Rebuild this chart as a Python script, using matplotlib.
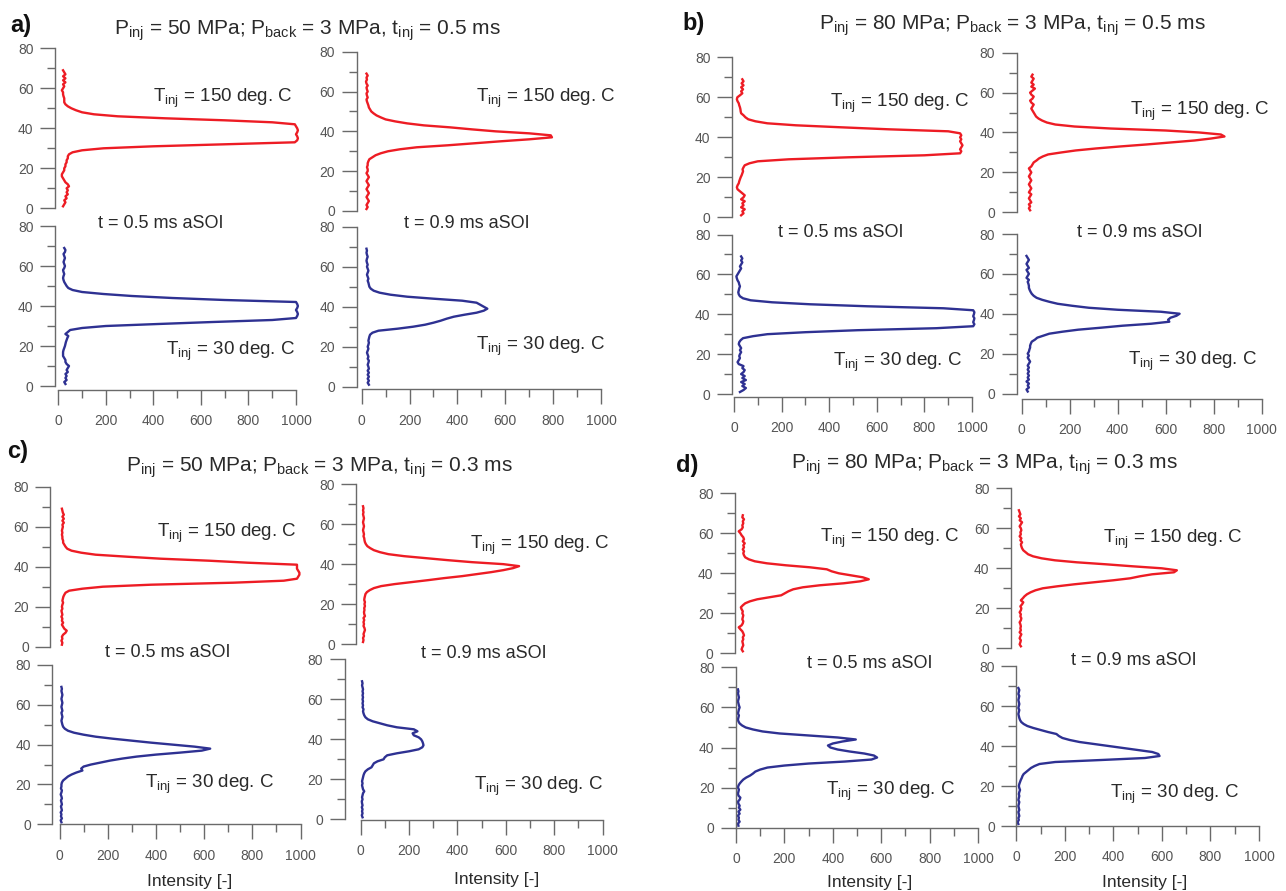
import matplotlib.pyplot as plt
from matplotlib.ticker import MultipleLocator

plt.rcParams['font.family'] = ['Liberation Sans', 'DejaVu Sans']
plt.rcParams['mathtext.fontset'] = 'custom'
plt.rcParams['mathtext.rm'] = 'Liberation Sans'
plt.rcParams['mathtext.it'] = 'Liberation Sans:italic'
plt.rcParams['mathtext.bf'] = 'Liberation Sans:bold'

# radial position (same grid for every profile)
height = list(range(1, 70))

# intensity profiles, one value per height step
a_hot_05 = [20, 25, 30, 25, 35, 30, 40, 35, 40, 35,
            45, 40, 30, 25, 20, 15, 15, 20, 25, 25,
            30, 30, 35, 35, 40, 40, 45, 60, 100, 190,
            400, 700, 995, 1005, 1008, 1005, 1000, 1005, 1008, 1005,
            1000, 995, 900, 700, 450, 250, 150, 100, 75, 55,
            40, 30, 25, 25, 25, 22, 20, 20, 15, 20,
            25, 20, 30, 20, 30, 20, 30, 25, 20]
a_hot_09 = [20, 25, 20, 25, 30, 25, 20, 25, 30, 25,
            20, 25, 30, 25, 20, 25, 30, 25, 20, 25,
            25, 22, 25, 25, 28, 32, 45, 58, 80, 110,
            160, 230, 360, 470, 580, 700, 795, 790, 700, 560,
            460, 370, 260, 190, 140, 100, 80, 62, 50, 40,
            35, 30, 28, 25, 22, 20, 25, 22, 20, 25,
            22, 20, 25, 20, 18, 22, 20, 25, 20]
a_cold_05 = [30, 25, 35, 30, 35, 30, 40, 35, 40, 45,
             35, 30, 30, 25, 20, 20, 20, 22, 25, 28,
             30, 32, 35, 38, 42, 30, 40, 50, 100, 200,
             420, 650, 900, 1000, 1005, 1008, 1005, 1000, 1005, 1008,
             1005, 1000, 700, 480, 310, 190, 100, 60, 42, 35,
             30, 25, 22, 20, 22, 25, 22, 20, 25, 28,
             25, 22, 25, 28, 25, 22, 28, 30, 25]
a_cold_09 = [30, 25, 30, 25, 30, 25, 30, 25, 30, 28,
             25, 28, 30, 25, 28, 25, 22, 25, 28, 25,
             28, 30, 28, 30, 32, 35, 45, 70, 150, 215,
             265, 300, 330, 355, 385, 430, 480, 510, 525, 510,
             495, 480, 420, 300, 190, 120, 75, 50, 38, 32,
             30, 28, 25, 28, 25, 22, 25, 28, 25, 22,
             25, 22, 20, 22, 25, 22, 20, 22, 20]
b_hot_05 = [30, 40, 35, 45, 30, 40, 35, 45, 30, 40,
            45, 35, 25, 15, 12, 15, 20, 22, 25, 28,
            32, 35, 38, 36, 40, 45, 65, 100, 230, 480,
            800, 950, 955, 950, 955, 960, 955, 950, 955, 950,
            955, 950, 900, 650, 450, 260, 140, 90, 60, 48,
            40, 30, 28, 27, 25, 22, 20, 15, 12, 14,
            25, 35, 30, 38, 30, 40, 32, 40, 35]
b_hot_09 = [35, 30, 35, 30, 40, 35, 30, 35, 40, 30,
            35, 40, 35, 30, 35, 40, 35, 30, 35, 40,
            35, 30, 40, 45, 50, 62, 72, 88, 110, 165,
            225, 310, 410, 520, 620, 720, 790, 845, 830, 740,
            600, 370, 220, 140, 105, 85, 70, 60, 55, 50,
            45, 40, 45, 50, 40, 35, 45, 50, 40, 35,
            45, 55, 40, 50, 40, 45, 50, 40, 45]
b_cold_05 = [25, 40, 50, 35, 45, 30, 50, 35, 45, 30,
             40, 45, 35, 40, 20, 15, 20, 25, 22, 25,
             30, 25, 30, 25, 20, 22, 28, 38, 80, 140,
             300, 520, 850, 1005, 1010, 1005, 1008, 1010, 1005, 1008,
             1010, 1005, 880, 560, 320, 160, 70, 38, 25, 20,
             18, 20, 22, 25, 22, 20, 15, 12, 10, 15,
             20, 25, 30, 25, 30, 35, 30, 35, 30]
b_cold_09 = [25, 20, 30, 25, 30, 20, 30, 25, 30, 25,
             30, 25, 30, 25, 30, 35, 30, 25, 30, 25,
             30, 32, 35, 35, 38, 42, 55, 65, 90, 115,
             170, 235, 330, 420, 540, 615, 610, 620, 645, 658,
             580, 400, 280, 210, 150, 115, 85, 62, 50, 42,
             37, 33, 30, 30, 28, 25, 30, 20, 25, 30,
             25, 20, 30, 25, 20, 25, 30, 25, 20]
c_hot_05 = [10, 12, 8, 12, 10, 15, 25, 30, 20, 15,
            10, 15, 10, 12, 8, 12, 10, 8, 12, 10,
            12, 15, 12, 14, 16, 20, 25, 40, 95, 180,
            380, 720, 930, 985, 990, 995, 995, 990, 985, 985,
            985, 780, 620, 420, 280, 150, 90, 50, 32, 25,
            20, 15, 15, 12, 12, 10, 12, 10, 12, 14,
            12, 18, 12, 18, 12, 18, 14, 12, 10]
c_hot_09 = [10, 12, 10, 14, 12, 15, 18, 16, 12, 14,
            12, 15, 12, 18, 15, 14, 16, 15, 18, 16,
            18, 15, 16, 18, 20, 26, 38, 55, 85, 140,
            210, 280, 345, 420, 480, 540, 590, 630, 655, 590,
            460, 360, 270, 180, 115, 80, 55, 40, 28, 22,
            18, 16, 15, 12, 14, 12, 10, 12, 14, 12,
            10, 12, 14, 12, 10, 12, 10, 12, 10]
c_cold_05 = [8, 5, 10, 6, 8, 5, 10, 8, 6, 10,
             8, 6, 10, 8, 5, 8, 10, 6, 8, 8,
             10, 15, 25, 35, 50, 70, 95, 90, 100, 130,
             170, 210, 260, 320, 400, 500, 590, 625, 560, 470,
             380, 300, 220, 150, 100, 60, 35, 22, 15, 12,
             10, 8, 10, 12, 10, 8, 12, 10, 8, 10,
             12, 10, 8, 10, 12, 10, 8, 10, 8]
c_cold_09 = [8, 5, 8, 6, 8, 5, 8, 6, 5, 8,
             6, 8, 10, 15, 10, 8, 6, 8, 6, 8,
             10, 12, 15, 20, 30, 45, 50, 55, 70, 95,
             100, 110, 150, 200, 240, 255, 260, 258, 255, 250,
             240, 220, 215, 235, 220, 150, 110, 80, 50, 30,
             20, 15, 12, 10, 12, 8, 10, 8, 10, 8,
             10, 8, 10, 8, 10, 8, 6, 8, 6]
d_hot_05 = [20, 15, 18, 22, 20, 18, 22, 20, 25, 22,
            18, 10, 3, 15, 20, 22, 18, 20, 22, 18,
            20, 15, 12, 20, 30, 50, 80, 130, 180, 195,
            210, 230, 270, 340, 440, 510, 545, 520, 470, 420,
            390, 370, 300, 200, 120, 70, 45, 30, 25, 22,
            25, 20, 25, 22, 28, 20, 25, 22, 15, 10,
            3, 15, 20, 18, 22, 20, 25, 18, 20]
d_hot_09 = [20, 15, 18, 20, 15, 18, 22, 15, 20, 18,
            20, 18, 15, 20, 22, 18, 20, 15, 20, 22,
            18, 25, 30, 20, 28, 35, 45, 60, 80, 110,
            170, 240, 320, 400, 470, 510, 560, 650, 662, 600,
            480, 370, 250, 160, 105, 70, 50, 40, 30, 25,
            22, 20, 25, 18, 22, 15, 20, 18, 22, 20,
            15, 20, 25, 15, 20, 12, 18, 15, 12]
d_cold_05 = [10, 8, 15, 10, 12, 8, 15, 10, 18, 12,
             15, 10, 8, 15, 18, 10, 8, 10, 12, 8,
             10, 15, 22, 30, 42, 58, 70, 80, 100, 130,
             200, 300, 450, 560, 583, 570, 530, 470, 420, 390,
             380, 400, 440, 495, 420, 300, 180, 110, 70, 40,
             25, 15, 10, 8, 10, 12, 8, 10, 12, 15,
             12, 10, 8, 10, 12, 10, 8, 10, 8]
d_cold_09 = [8, 5, 10, 8, 12, 10, 8, 12, 10, 8,
             10, 12, 8, 10, 12, 10, 12, 15, 12, 10,
             12, 15, 18, 22, 25, 30, 40, 50, 60, 75,
             95, 160, 350, 530, 590, 585, 560, 500, 440, 380,
             320, 260, 220, 190, 175, 165, 130, 100, 70, 45,
             30, 20, 15, 12, 10, 8, 10, 12, 8, 10,
             12, 10, 8, 10, 12, 8, 10, 12, 8]

panel_letters = ['a)', 'b)', 'c)', 'd)']
panel_titles = [r'P$_{\rm inj}$ = 50 MPa; P$_{\rm back}$ = 3 MPa, t$_{\rm inj}$ = 0.5 ms',
                r'P$_{\rm inj}$ = 80 MPa; P$_{\rm back}$ = 3 MPa, t$_{\rm inj}$ = 0.5 ms',
                r'P$_{\rm inj}$ = 50 MPa; P$_{\rm back}$ = 3 MPa, t$_{\rm inj}$ = 0.3 ms',
                r'P$_{\rm inj}$ = 80 MPa; P$_{\rm back}$ = 3 MPa, t$_{\rm inj}$ = 0.3 ms']
hot_label = r'T$_{\rm inj}$ = 150 deg. C'
cold_label = r'T$_{\rm inj}$ = 30 deg. C'
time_labels = ['t = 0.5 ms aSOI', 't = 0.9 ms aSOI']
xlabel = 'Intensity [-]'

RED = '#ed1c24'
BLUE = '#2e3192'
GREY = '#6a6a6a'
TXT = '#2a2a2a'

W, H = 1286, 891
fig = plt.figure(figsize=(W / 100, H / 100), dpi=100)


def add_profile(profile, color, x0, x1, y0, y80, spine_px, xaxis_px=None):
    ax = fig.add_axes([x0 / W, 1 - y0 / H, (x1 - x0) / W, (y0 - y80) / H])
    ax.plot(profile, height, color=color, lw=1.7, solid_joinstyle='round', clip_on=False)
    ax.set_xlim(0, 1000)
    ax.set_ylim(0, 80)
    ax.patch.set_visible(False)
    for s in ['top', 'right']:
        ax.spines[s].set_visible(False)
    ax.spines['left'].set_position(('outward', (x0 - spine_px) * 0.72))
    ax.spines['left'].set_color(GREY)
    ax.spines['left'].set_linewidth(1.0)
    ax.yaxis.set_major_locator(MultipleLocator(20))
    ax.yaxis.set_minor_locator(MultipleLocator(10))
    ax.tick_params(axis='y', which='major', length=10.5, width=1.0, color=GREY,
                   pad=5, labelsize=10, labelcolor='#555555')
    ax.tick_params(axis='y', which='minor', length=5.5, width=1.0, color=GREY)
    if xaxis_px is None:
        ax.spines['bottom'].set_visible(False)
        ax.set_xticks([])
    else:
        ax.spines['bottom'].set_position(('outward', (xaxis_px - y0) * 0.72))
        ax.spines['bottom'].set_color(GREY)
        ax.spines['bottom'].set_linewidth(1.0)
        ax.xaxis.set_major_locator(MultipleLocator(200))
        ax.xaxis.set_minor_locator(MultipleLocator(100))
        ax.tick_params(axis='x', which='major', length=10.5, width=1.0, color=GREY,
                       pad=7, labelsize=10, labelcolor='#555555')
        ax.tick_params(axis='x', which='minor', length=5.5, width=1.0, color=GREY)
    return ax


def ftext(x, y, s, **kw):
    kw.setdefault('color', TXT)
    fig.text(x / W, 1 - y / H, s, **kw)


# panel a
add_profile(a_hot_05, RED, 58.3, 296, 208.3, 48.3, 55)
add_profile(a_hot_09, RED, 361.7, 601, 211, 51.7, 356.7)
add_profile(a_cold_05, BLUE, 58.3, 296, 386, 226, 55, 390)
add_profile(a_cold_09, BLUE, 361.7, 601, 386.7, 226.7, 356.7, 389.5)
# panel b
add_profile(b_hot_05, RED, 734, 972, 217.3, 57.3, 732)
add_profile(b_hot_09, RED, 1021.7, 1261.7, 212.3, 52.7, 1016.7)
add_profile(b_cold_05, BLUE, 734, 972, 394, 234.5, 732, 397)
add_profile(b_cold_09, BLUE, 1021.7, 1261.7, 393.5, 234, 1016.7, 399)
# panel c
add_profile(c_hot_05, RED, 59.5, 300.6, 646.7, 486.7, 50.3)
add_profile(c_hot_09, RED, 360.6, 602.5, 644, 484.3, 356.4)
add_profile(c_cold_05, BLUE, 59.5, 300.6, 824.3, 665, 52.4, 824.3)
add_profile(c_cold_09, BLUE, 360.6, 602.5, 819.3, 659.3, 344.6, 820)
# panel d
add_profile(d_hot_05, RED, 738, 978, 653.3, 493.3, 735)
add_profile(d_hot_09, RED, 1016, 1259, 648.3, 488.3, 1011)
add_profile(d_cold_05, BLUE, 736, 978, 827.7, 667.3, 736, 827.7)
add_profile(d_cold_09, BLUE, 1016.4, 1259, 826, 666, 1016.4, 826)

# panel letters and titles
for (lx, ly), (tx, ty), letter, title in zip(
        [(10, 32), (682, 30), (7, 458), (676, 472)],
        [(307, 35), (1012, 30), (319, 471.7), (984, 468.3)],
        panel_letters, panel_titles):
    ftext(lx, ly, letter, fontsize=17, fontweight='bold', color='#111111', va='baseline')
    ftext(tx, ty, title, fontsize=15, ha='center', va='baseline')

# temperature labels
for x, y in [(153, 101.7), (476, 101.7), (830, 106.7), (1130, 114.7),
             (157, 536.7), (470, 549.4), (820, 541.7), (1103, 542.7)]:
    ftext(x, y, hot_label, fontsize=13.5, va='baseline')
for x, y in [(166, 354.7), (476, 349.7), (833, 365.7), (1128, 364.7),
             (145, 787.7), (474, 790), (826, 794.7), (1110, 798.4)]:
    ftext(x, y, cold_label, fontsize=13.5, va='baseline')

# time labels
for x, y, i in [(161, 228, 0), (467, 228, 1), (841, 236.7, 0), (1140, 236.7, 1),
                (168, 657.4, 0), (484, 658.4, 1), (870, 668.4, 0), (1134, 664.7, 1)]:
    ftext(x, y, time_labels[i], fontsize=13, ha='center', va='baseline')

# x-axis labels
for x, y in [(190, 886), (497, 884), (870, 887), (1145, 887)]:
    ftext(x, y, xlabel, fontsize=12.5, ha='center', va='baseline')

fig.savefig('out.png', dpi=100)
